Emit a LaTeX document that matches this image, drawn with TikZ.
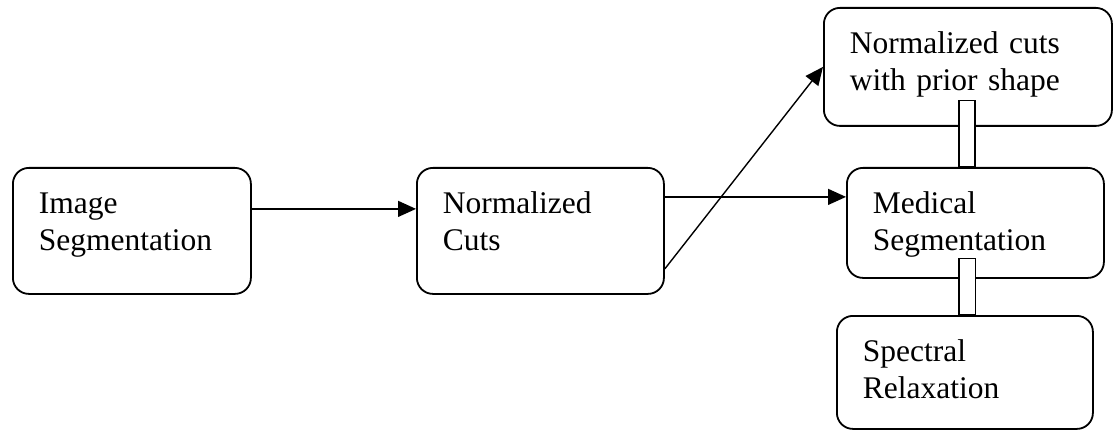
\documentclass[tikz,border=0pt]{standalone}
\usepackage{fontspec}
\setmainfont{Liberation Serif}
\usetikzlibrary{arrows.meta, positioning}

\begin{document}
\begin{tikzpicture}[
    stage/.style={draw, line width=1.8pt, rounded corners=16pt, anchor=north west, align=left,
        inner xsep=26pt, inner ysep=0pt, text height=46pt, font=\fontsize{31.5}{37}\selectfont},
    arrow/.style={-{Triangle[length=18pt, width=16pt]}, line width=1.4pt},
    bar/.style={draw, fill=white, line width=1.4pt}
]
    \useasboundingbox (0,0) rectangle (1113pt,-430pt);

    % Nodes - main row
    \node[stage, text width=186pt, text depth=80pt] (imgseg) at (12pt,-167pt) {Image\\Segmentation};
    \node[stage, text width=195pt, text depth=80pt] (normcuts) at (416pt,-167pt) {Normalized\\Cuts};

    % Nodes - right column
    \node[stage, text width=236pt, text depth=72pt] (prior) at (823pt,-7pt) {Normalized cuts\\with prior shape};
    \node[stage, text width=205pt, text depth=64pt] (medseg) at (846pt,-167pt) {Medical\\Segmentation};
    \node[stage, text width=204pt, text depth=67pt] (spectral) at (836pt,-315pt) {Spectral\\Relaxation};

    % Arrows
    \draw[arrow] ([yshift=22pt]imgseg.east) -- ([yshift=22pt]normcuts.west);
    \draw[arrow] ([yshift=34pt]normcuts.east) -- ([yshift=26pt]medseg.west);
    \draw[arrow] ([yshift=-38pt]normcuts.east) -- (prior.west);

    % Links in the right column
    \draw[bar] ([xshift=-9pt, yshift=26pt]prior.south) rectangle ([xshift=7pt]prior.south |- medseg.north);
    \draw[bar] ([xshift=-16.5pt, yshift=20pt]medseg.south) rectangle (medseg.south |- spectral.north);
\end{tikzpicture}
\end{document}
